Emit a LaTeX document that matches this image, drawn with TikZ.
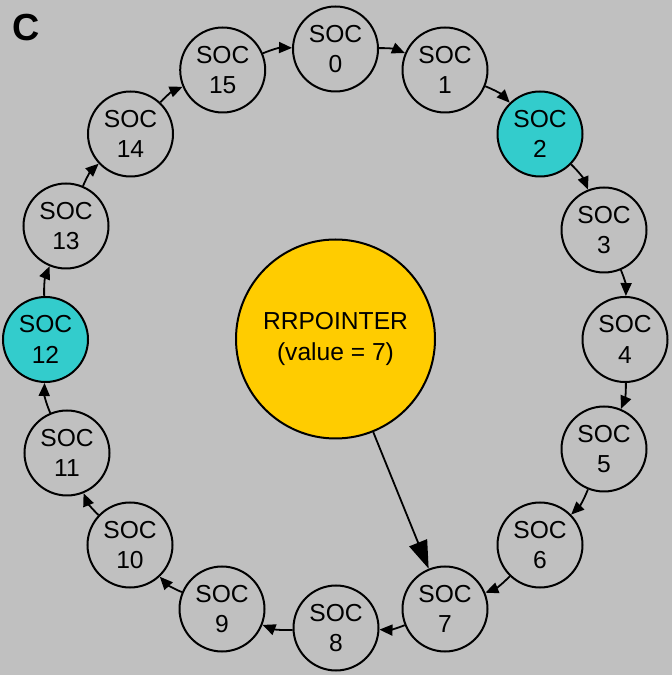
\documentclass[tikz,border=0pt]{standalone}
\usepackage{fontspec}
\setmainfont{Liberation Sans}
\usetikzlibrary{arrows.meta}
\definecolor{bg}{HTML}{C0C0C0}
\definecolor{socc}{HTML}{33CCCC}
\definecolor{rry}{HTML}{FFCC00}
\tikzset{
  soc/.style={circle,draw=black,line width=2pt,minimum size=85pt,inner sep=0pt,align=center,
    font=\fontsize{24.6pt}{30.5pt}\selectfont},
  hot/.style={soc,fill=socc},
  ring/.style={-{Triangle[length=13pt,width=11pt]},line width=1.8pt,bend left=12},
  big/.style={-{Triangle[length=28pt,width=19pt]},line width=1.8pt},
}
\begin{document}
\begin{tikzpicture}[x=1pt,y=1pt]
\fill[bg] (0,0) rectangle (672,675);
\useasboundingbox (0,0) rectangle (672,675);
\node[font=\fontsize{37.7pt}{40pt}\selectfont\bfseries] (lbl) at (26,647) {C};
\node[soc] (s0) at (335.5,626) {SOC\\0};
\node[soc] (s1) at (445,605) {SOC\\1};
\node[hot] (s2) at (540,541) {SOC\\2};
\node[soc] (s3) at (604,445) {SOC\\3};
\node[soc] (s4) at (625,335.5) {SOC\\4};
\node[soc] (s5) at (604,226) {SOC\\5};
\node[soc] (s6) at (540,130) {SOC\\6};
\node[soc] (s7) at (445,66) {SOC\\7};
\node[soc] (s8) at (336,47) {SOC\\8};
\node[soc] (s9) at (222,66) {SOC\\9};
\node[soc] (s10) at (130,130) {SOC\\10};
\node[soc] (s11) at (67,222) {SOC\\11};
\node[hot] (s12) at (45.5,335.5) {SOC\\12};
\node[soc] (s13) at (66,449) {SOC\\13};
\node[soc] (s14) at (130.5,541) {SOC\\14};
\node[soc] (s15) at (222.7,605) {SOC\\15};
\node[circle,draw=black,line width=2pt,fill=rry,minimum size=199pt,inner sep=0pt,align=center,
  font=\fontsize{24.6pt}{30.5pt}\selectfont] (rr) at (335.5,336) {RRPOINTER\\(value = 7)};
\foreach \a/\b in {s0/s1,s1/s2,s2/s3,s3/s4,s4/s5,s5/s6,s6/s7,s7/s8,s8/s9,s9/s10,s10/s11,s11/s12,s12/s13,s13/s14,s14/s15,s15/s0}
  \draw[ring] (\a) to (\b);
\draw[big] (rr) -- (s7);
\end{tikzpicture}
\end{document}
